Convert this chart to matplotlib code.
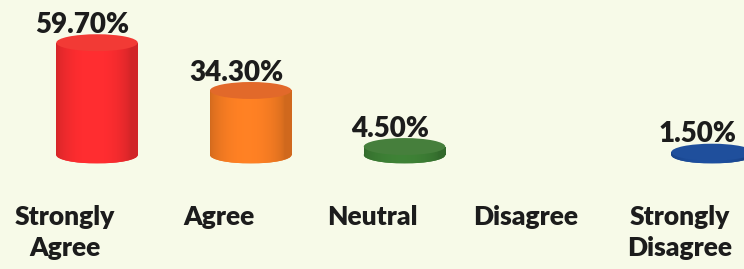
import matplotlib
matplotlib.use("Agg")
import matplotlib.pyplot as plt
import numpy as np
from matplotlib.patches import Ellipse, Rectangle
from matplotlib.colors import to_rgb

# Datos del gráfico
categorias = ["Strongly\nAgree", "Agree", "Neutral", "Disagree", "Strongly\nDisagree"]
porcentajes = [59.7, 34.3, 4.5, 0.0, 1.5]
etiquetas = ["59.70%", "34.30%", "4.50%", "", "1.50%"]
colores = ["#f42b2e", "#f27a22", "#3b7b33", "#888888", "#1c4b97"]
colores_tapa = ["#f23a35", "#e2692a", "#467f3c", "#888888", "#1f4f9c"]

fondo = "#f7fae8"
texto = "#1c1c1c"

fig = plt.figure(figsize=(7.44, 2.69), dpi=100)
fig.patch.set_facecolor(fondo)
ax = fig.add_axes([0, 0, 1, 1])
ax.set_facecolor(fondo)

ancho = 0.53      # ancho del cilindro
alto_elipse = 9.0  # alto de la elipse en unidades de datos

# gradiente horizontal para dar efecto de volumen
t = np.linspace(0, 1, 200)
sombra = 0.86 + 0.2 * np.sin(np.pi * np.clip(t * 1.1, 0, 1)) ** 0.6


def degradado(color):
    rgb = np.array(to_rgb(color))
    img = np.clip(sombra[:, None] * rgb[None, :], 0, 1)
    return img[None, :, :]


for i, v in enumerate(porcentajes):
    if v <= 0:
        continue
    x0 = i - ancho / 2

    base = Ellipse((i, 0), ancho, alto_elipse, facecolor=colores[i], edgecolor="none")
    cuerpo = Rectangle((x0, 0), ancho, v, facecolor=colores[i], edgecolor="none")
    ax.add_patch(base)
    ax.add_patch(cuerpo)

    for parche, (y0, y1) in [(base, (-alto_elipse / 2, alto_elipse / 2)), (cuerpo, (0, v))]:
        im = ax.imshow(degradado(colores[i]), extent=[x0, x0 + ancho, y0, y1],
                       aspect="auto", interpolation="bilinear", zorder=2)
        im.set_clip_path(parche)

    tapa = Ellipse((i, v), ancho, alto_elipse, facecolor=colores_tapa[i],
                   edgecolor="none", zorder=3)
    ax.add_patch(tapa)

    ax.text(i - 0.095, v + alto_elipse / 2 + 0.8, etiquetas[i], ha="center", va="baseline",
            fontsize=20, fontweight="heavy", family="Lato", color=texto, zorder=4)

for i, cat in enumerate(categorias):
    ax.text(i - 0.21, -26.8, cat, ha="center", va="top", fontsize=19,
            fontweight="heavy", family="Lato", color=texto, linespacing=1.35)

ax.set_xlim(-0.631, 4.208)
ax.set_ylim(-60.6, 82.4)
ax.axis("off")

fig.savefig("out.png", dpi=100, facecolor=fondo)
